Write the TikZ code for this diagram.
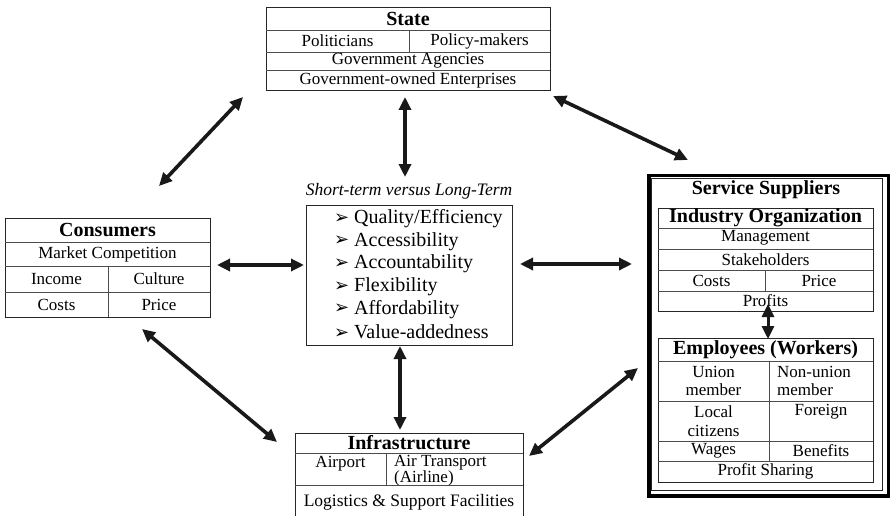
\documentclass[tikz,border=0pt]{standalone}
\usepackage{fontspec}
\setmainfont{Liberation Serif}
\newfontfamily\dvfont{DejaVu Sans}
\usetikzlibrary{arrows.meta}
\begin{document}
\begin{tikzpicture}[x=1pt,y=-1pt,
  boxn/.style={draw=black!85, line width=0.9pt, inner sep=0pt, anchor=north west},
  inl/.style={draw=black!70, line width=0.8pt},
  cell/.style={inner sep=0pt, font=\fontsize{17}{18.5}\selectfont},
  bcell/.style={inner sep=0pt, font=\fontsize{17}{15}\selectfont},
  ttl/.style={inner sep=0pt, font=\bfseries\fontsize{20}{22}\selectfont},
  itm/.style={inner sep=0pt, anchor=west, font=\fontsize{20}{22}\selectfont},
  arr/.style={line width=3.6pt, draw=black!90,
    {Triangle[length=13pt,width=12pt]}-{Triangle[length=13pt,width=12pt]}}
]
\useasboundingbox (0,0) rectangle (891,516);
\clip (0,0) rectangle (891,516);

% ---------------- State ----------------
\node[boxn, minimum width=284pt, minimum height=83pt] (state) at (266,7) {};
\draw[inl] (266,30) -- (550,30) (266,52) -- (550,52) (266,70) -- (550,70)
           (409,30) -- (409,52);
\node[ttl] (stT) at (408,18.5) {State};
\node[cell] (st1) at (337.5,41) {Politicians};
\node[cell] (st2) at (479.5,41) {Policy-makers};
\node[cell] (st3) at (408,61) {Government Agencies};
\node[cell] (st4) at (408,80.5) {Government-owned Enterprises};

% ---------------- Consumers ----------------
\node[boxn, minimum width=205pt, minimum height=99pt] (cons) at (5,218) {};
\draw[inl] (5,242) -- (210,242) (5,266) -- (210,266) (5,292) -- (210,292)
           (108,266) -- (108,317);
\node[ttl] (coT) at (107.5,230) {Consumers};
\node[cell] (co1) at (107.5,254) {Market Competition};
\node[cell] (co2) at (56.5,279) {Income};
\node[cell] (co3) at (159,279) {Culture};
\node[cell] (co4) at (56.5,304.5) {Costs};
\node[cell] (co5) at (159,304.5) {Price};

% ---------------- Centre ----------------
\node[inner sep=0pt, font=\itshape\fontsize{17.5}{19}\selectfont] (cenL) at (409,191) {Short-term versus Long-Term};
\node[boxn, minimum width=206pt, minimum height=140pt] (cen) at (306,205) {};
\newcommand{\bul}{\makebox[20pt][l]{\raisebox{0.5pt}{\dvfont\fontsize{18}{18}\selectfont ➢}}}
\node[itm] (i1) at (334,219) {\bul Quality/Efficiency};
\node[itm] (i2) at (334,241.6) {\bul Accessibility};
\node[itm] (i3) at (334,264.2) {\bul Accountability};
\node[itm] (i4) at (334,286.8) {\bul Flexibility};
\node[itm] (i5) at (334,309.4) {\bul Affordability};
\node[itm] (i6) at (334,332) {\bul Value-addedness};

% ---------------- Service suppliers ----------------
\node[draw=black, line width=3.5pt, inner sep=0pt, anchor=north west,
      minimum width=239.5pt, minimum height=320.5pt] (serv) at (647,173.5) {};
\node[boxn, minimum width=231pt, minimum height=312.5pt] (servIn) at (651,177.5) {};
\node[ttl] (svT) at (766,190) {Service Suppliers};
% industry organization
\node[boxn, minimum width=215pt, minimum height=103pt] (ind) at (658,208) {};
\draw[inl] (658,228) -- (873,228) (658,249) -- (873,249) (658,270) -- (873,270)
           (658,291) -- (873,291) (765,270) -- (765,291);
\node[ttl] (inT) at (765.5,217.5) {Industry Organization};
\node[cell] (in1) at (765.5,238) {Management};
\node[cell] (in2) at (765.5,259.5) {Stakeholders};
\node[cell] (in3) at (711.5,280.5) {Costs};
\node[cell] (in4) at (819,280.5) {Price};
\node[cell] (in5) at (765.5,301) {Profits};
% employees
\node[boxn, minimum width=215pt, minimum height=144pt] (emp) at (658,338) {};
\draw[inl] (658,361) -- (873,361) (658,401) -- (873,401) (658,441) -- (873,441)
           (658,461) -- (873,461) (769,361) -- (769,461);
\node[ttl] (emT) at (765.5,349.5) {Employees (Workers)};
\node[cell, align=center] (em1) at (713.5,381) {Union\\member};
\node[cell, align=left, anchor=west] (em2) at (777,381) {Non-union\\member};
\node[cell, align=center] (em3) at (713.5,421) {Local\\citizens};
\node[cell] (em4) at (821,412) {Foreign};
\node[cell] (em5) at (713.5,451) {Wages};
\node[cell] (em6) at (821,451) {Benefits};
\node[cell] (em7) at (765.5,471.5) {Profit Sharing};

% ---------------- Infrastructure ----------------
\node[inner sep=0pt, minimum width=228pt, minimum height=90pt, anchor=north west] (inf) at (295,433) {};
\draw[draw=black!85, line width=0.9pt] (295,525) -- (295,433) -- (523,433) -- (523,525);
\draw[inl] (295,453) -- (523,453) (295,485) -- (523,485) (386,453) -- (386,485);
\node[ttl] (ifT) at (409,442.5) {Infrastructure};
\node[bcell] (if1) at (340.5,464) {Airport};
\node[bcell, align=left, anchor=west] (if2) at (394,470.5) {Air Transport\\(Airline)};
\node[bcell, font=\fontsize{17.5}{18}\selectfont] (if3) at (409,502) {Logistics \& Support Facilities};

% ---------------- Arrow end points ----------------
\coordinate (a1s) at (243,97);   \coordinate (a1c) at (159,186);
\coordinate (a2s) at (405,97);   \coordinate (a2c) at (405,177);
\coordinate (a3s) at (553,96);   \coordinate (a3v) at (688,160);
\coordinate (a4c) at (217,265);  \coordinate (a4m) at (304,265);
\coordinate (a5m) at (520,264);  \coordinate (a5v) at (632,264);
\coordinate (a6c) at (142,329);  \coordinate (a6i) at (277,442);
\coordinate (a7m) at (400,346);  \coordinate (a7i) at (400,430);
\coordinate (a8i) at (529,456);  \coordinate (a8v) at (638,368);
\coordinate (a9p) at (768,304);  \coordinate (a9e) at (768,339);

\draw[arr] (a1s) -- (a1c);
\draw[arr] (a2s) -- (a2c);
\draw[arr] (a3s) -- (a3v);
\draw[arr] (a4c) -- (a4m);
\draw[arr] (a5m) -- (a5v);
\draw[arr] (a6c) -- (a6i);
\draw[arr] (a7m) -- (a7i);
\draw[arr] (a8i) -- (a8v);
\draw[arr, line width=3pt] (a9p) -- (a9e);
\end{tikzpicture}
\end{document}
